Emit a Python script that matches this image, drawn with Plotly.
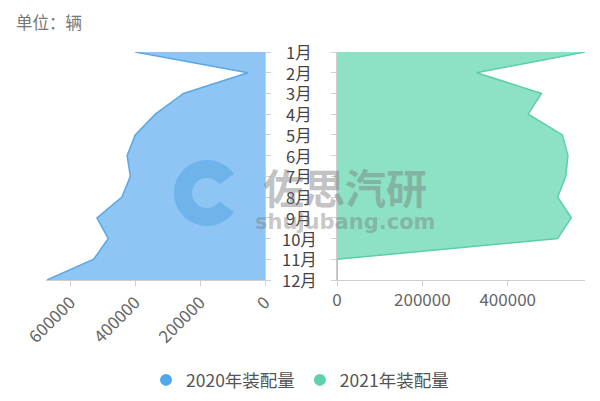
import numpy as np
import plotly.graph_objects as go

months = ["1月", "2月", "3月", "4月", "5月", "6月", "7月", "8月", "9月", "10月", "11月", "12月"]
vals_2020 = [400000, 53000, 251000, 338000, 400000, 425000, 415000, 441000, 518000, 483000, 528000, 672000]
vals_2021 = [581000, 327000, 479000, 448000, 528000, 541000, 536000, 517000, 549000, 517000, 0, 0]
x_ticks = [0, 200000, 400000, 600000]

W, H = 600, 401
OFF = 8  # page body margin
px_x = lambda p: (p - OFF) / W
px_y = lambda p: 1 - (p - OFF) / H

fig = go.Figure()

# left: 2020 (reversed axis)
fig.add_trace(go.Scatter(
    x=vals_2020, y=months, xaxis="x", yaxis="y", mode="lines",
    line=dict(color="#5aa8e6", width=1.5), fill="tozerox",
    fillcolor="#8ec5f4", showlegend=False, hoverinfo="x+y"))
# right: 2021
fig.add_trace(go.Scatter(
    x=vals_2021, y=months, xaxis="x2", yaxis="y2", mode="lines",
    line=dict(color="#5ccfa3", width=1.5), fill="tozerox",
    fillcolor="#8de2c5", showlegend=False, hoverinfo="x+y"))

# legend-only markers
for name, col in [("2020年装配量", "#4fa8ea"), ("2021年装配量", "#5ed3a9")]:
    fig.add_trace(go.Scatter(x=[None], y=[None], mode="markers", name=name,
                             marker=dict(color=col, size=11)))

axis_common = dict(showgrid=False, zeroline=False, showline=True, linecolor="#cfcfcf",
                   ticks="outside", ticklen=5, tickcolor="#cfcfcf", automargin=False,
                   tickfont=dict(size=17, color="#666"))
yaxis_common = dict(domain=[px_y(280), px_y(52)], type="category", categoryarray=months,
                    range=[11, 0], showticklabels=False, automargin=False,
                    showgrid=False, zeroline=False, showline=True, linecolor="#cfcfcf",
                    ticks="outside", ticklen=5, tickcolor="#cfcfcf")

fig.update_layout(
    width=W, height=H, margin=dict(l=0, r=0, t=0, b=0, autoexpand=False),
    plot_bgcolor="white", paper_bgcolor="white",
    font=dict(family="Noto Sans CJK SC, Noto Sans, sans-serif"),
    xaxis=dict(domain=[px_x(46), px_x(265)], range=[675000, 0], anchor="y",
               tickvals=x_ticks, ticktext=[str(v) for v in x_ticks], tickangle=-45,
               **axis_common),
    xaxis2=dict(domain=[px_x(337), px_x(585)], range=[0, 581000], anchor="y2",
                tickvals=x_ticks[:3], ticktext=[str(v) for v in x_ticks[:3]],
                **axis_common),
    yaxis=dict(anchor="x", side="right", **yaxis_common),
    yaxis2=dict(anchor="x2", side="left", **yaxis_common),
    legend=dict(orientation="h", x=px_x(300), xanchor="center", y=px_y(380), yanchor="middle",
                font=dict(size=17.5, color="#555"), itemsizing="constant", itemwidth=30),
)

# month labels between the two panels
for m in months:
    fig.add_annotation(x=px_x(299), xref="paper", y=m, yref="y", text=m,
                       showarrow=False, xanchor="center", yanchor="middle",
                       font=dict(size=16.5, color="#444"))

# unit label
fig.add_annotation(x=px_x(14), xref="paper", y=1, yref="paper", text="单位：辆",
                   showarrow=False, xanchor="left", yanchor="top",
                   font=dict(size=16.5, color="#777"))

# watermark
t = np.linspace(np.radians(35), np.radians(325), 40)
outer = [(33 * np.cos(a), 33 * np.sin(a)) for a in t]
inner = [(15 * np.cos(a), 15 * np.sin(a)) for a in t[::-1]]
pts = outer + inner
path = "M " + " L ".join(f"{x:.1f},{y:.1f}" for x, y in pts) + " Z"
fig.add_shape(type="path", path=path, xref="paper", yref="paper",
              xsizemode="pixel", ysizemode="pixel",
              xanchor=px_x(207), yanchor=px_y(193),
              fillcolor="rgba(60,150,222,0.38)", line=dict(width=0), layer="above")
fig.add_annotation(x=px_x(345), xref="paper", y=px_y(186), yref="paper", text="<b>佐思汽研</b>",
                   showarrow=False, font=dict(size=41, color="rgba(120,120,120,0.45)"))
fig.add_annotation(x=px_x(345), xref="paper", y=px_y(222), yref="paper", text="<b>shujubang.com</b>",
                   showarrow=False, font=dict(size=21, color="rgba(120,120,120,0.42)",
                                                family="DejaVu Sans, sans-serif"))

fig.write_html("out.html")
